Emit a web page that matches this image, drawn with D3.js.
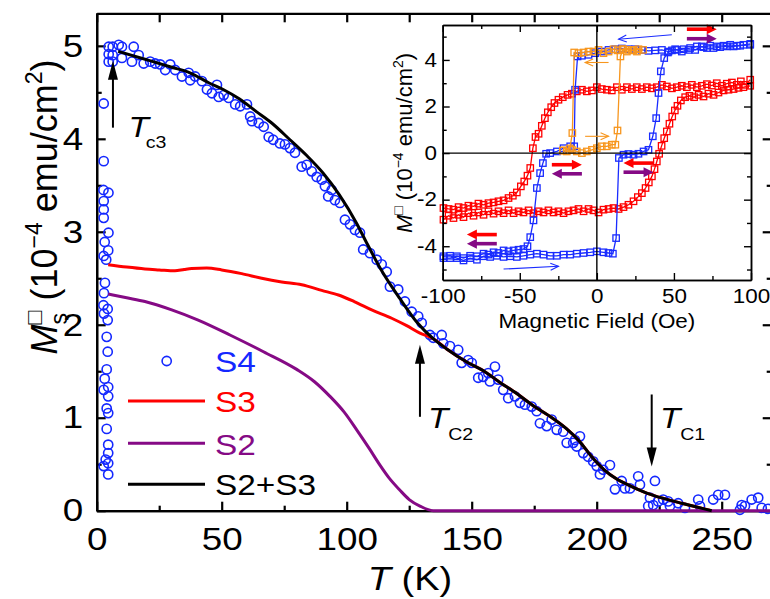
<!DOCTYPE html>
<html>
<head>
<meta charset="utf-8">
<script src="https://cdn.jsdelivr.net/npm/d3@7"></script>
<style>
  html, body { margin: 0; padding: 0; background: #fff; }
  svg { display: block; }
</style>
</head>
<body>
<svg id="chart" width="770" height="599"></svg>
<script>
// ---------------- main panel: remanent moment vs temperature ----------------
// S4 measured points: [T (K), Ms (1e-4 emu/cm^2)]
const s4Points = [
  [2.8,4.38],[2.8,3.76],[2.7,3.45],[4.7,3.42],[2.8,3.33],[2.8,3.24],[2.8,3.15],[4.7,2.99],[3.2,2.89],[4.6,2.80],[2.8,2.74],[3.8,2.70],
  [3.3,2.45],[2.9,2.34],[2.7,2.21],[4.4,2.17],[2.9,2.12],[4.4,2.05],[4.0,1.87],[4.4,1.71],[4.0,1.52],[3.2,1.42],[4.6,1.33],[2.8,1.30],
  [4.6,1.23],[4.0,1.10],[4.6,1.05],[4.0,0.88],[4.6,0.71],[4.6,0.62],[3.6,0.55],[4.6,0.51],[2.8,0.48],[4.6,0.39],
  [4.8,4.99],[6.4,4.99],[8.8,5.01],[10.1,4.99],[4.8,4.91],[6.4,4.90],[4.8,4.83],[6.4,4.83],[10.1,4.87],[14.8,4.99],[14.1,4.83],
  [16.8,4.90],[18.8,4.81],[21.4,4.83],[23.4,4.81],[25.4,4.80],[27.4,4.74],[29.4,4.80],[31.4,4.74],[34.1,4.67],[36.8,4.71],[37.4,4.63],
  [39.4,4.67],[42.1,4.62],[44.1,4.53],[46.1,4.49],[48.1,4.58],[48.8,4.45],[50.8,4.47],[52.8,4.44],[55.4,4.37],[57.4,4.35],[60.1,4.37],
  [61.4,4.24],[62.1,4.19],[64.8,4.17],[66.8,4.13],[68.8,4.02],[70.6,3.99],[73.3,3.95],[75.3,3.94],[77.3,3.90],[79.3,3.85],[82,3.70],
  [84,3.72],[86,3.65],[88,3.59],[90,3.56],[91.3,3.49],[94,3.45],[92.6,3.38],[95.3,3.34],[97.3,3.31],[99.3,3.13],[101.3,3.08],
  [103.3,3.02],[105.3,2.99],[106.6,2.81],[109.3,2.77],[112,2.70],[114,2.65],[116,2.57],[117.3,2.41],[120.6,2.38],[123.3,2.25],
  [126,2.14],[128.6,2.09],[130,2.02],[133.3,1.89],[134.6,1.86],[138,1.89],[138.6,1.80],[141.3,1.77],[144.6,1.73],[146,1.59],
  [148.6,1.62],[150,1.59],[152.6,1.43],[154.6,1.44],[156.6,1.48],[159.3,1.55],[157.3,1.39],[160.6,1.41],[162.6,1.30],[164.6,1.21],
  [167.3,1.23],[169.3,1.16],[171.3,1.14],[174,1.12],[176,1.07],[177.3,0.94],[180,0.91],[182,0.98],[184,0.87],[186.6,0.85],
  [188,0.73],[190.6,0.73],[193.3,0.80],[192,0.69],[191.3,0.76],[194.6,0.62],[196.6,0.58],[198.6,0.53],[200,0.48],[201.3,0.39],
  [202.6,0.44],[205.3,0.49],[207.3,0.23],[210,0.32],[211.3,0.24],[213.3,0.24],[216.6,0.37],[217.3,0.28],[221.3,0.14],[223.3,0.32],
  [220.6,0.05],[222.6,0.06],[224.6,0.10],[226.6,0.12],[228.6,0.10],[232.6,0.08],[229.3,0.05],[235.3,0.03],[240.6,0.12],[241.3,0.05],
  [246.6,0.12],[248.6,0.17],[251.3,0.17],[258,0.06],[259.3,0.05],[262,0.12],[264.6,0.14],[266,0.03],[257.3,0.01],[268.5,0.02]
];

// S3 component
const s3Curve = [
  [4.6,2.645],[12,2.62],[19.3,2.60],[25,2.59],[31.3,2.58],[35,2.595],[38,2.605],[44,2.61],[50,2.59],[58,2.55],[66,2.50],
  [74,2.46],[82,2.43],[90,2.37],[96.7,2.32],[103,2.25],[110,2.16],[118,2.07],[124,1.99],[129.3,1.91],[134.6,1.85],
  [140,1.74],[148,1.60],[155,1.50],[161.3,1.38],[168,1.26],[174.6,1.13],[181,1.02],[188,0.88],[193,0.75],[198,0.58],
  [203,0.44],[208,0.34],[214,0.26],[220,0.19],[227,0.13],[234,0.08],[240,0.04],[246,0.0]
];

// S2 component
const s2Curve = [
  [4.6,2.33],[12,2.29],[19.3,2.25],[30,2.16],[40.6,2.05],[53.3,1.89],[66.7,1.71],[80,1.52],[87,1.39],[93.3,1.23],[99,1.06],
  [104,0.87],[109,0.67],[113.3,0.49],[117,0.35],[121.3,0.22],[125,0.12],[129.3,0.05],[134.6,0.0],[160,0],[200,0],[240,0],[270,0]
];

// S2+S3
const sumCurve = [
  [8.6,4.94],[20,4.85],[30,4.77],[37.3,4.71],[45,4.60],[50.6,4.53],[57,4.43],[64,4.29],[70,4.17],[77.3,3.99],[84,3.82],
  [90.6,3.63],[97,3.40],[104,3.09],[108,2.88],[114,2.58],[121.3,2.28],[128,2.03],[134.6,1.85],[140,1.74],[148,1.60],
  [155,1.50],[161.3,1.38],[168,1.26],[174.6,1.13],[181,1.02],[188,0.88],[193,0.75],[198,0.58],[203,0.44],[208,0.34],
  [214,0.26],[220,0.19],[227,0.13],[234,0.08],[240,0.04],[246,0.0]
];

const xMajorTicks = [0, 50, 100, 150, 200, 250];
const xMinorTicks = [25, 75, 125, 175, 225];
const yMajorTicks = [0, 1, 2, 3, 4, 5];
const yMinorTicks = [0.5, 1.5, 2.5, 3.5, 4.5];

// transition temperatures marked with arrows: [T, M at tail, M at head]
const tcArrows = [
  { name: "c3", t: 6.5,   from: 4.12, to: 4.84 },
  { name: "C2", t: 129.3, from: 1.01, to: 1.785 },
  { name: "C1", t: 222,   from: 1.25, to: 0.476 }
];
// label anchors for the arrows: [T, M] of the "T" and of the subscript
const tcLabels = [
  { sub: "c3", main: [12.7, 4.02], subPos: [19.6, 3.90] },
  { sub: "C2", main: [132.5, 0.89], subPos: [140.6, 0.76] },
  { sub: "C1", main: [225.3, 0.89], subPos: [233.4, 0.76] }
];

// ---------------- inset: hysteresis loops ----------------
// field (Oe), moment (1e-4 emu/cm^2)
const blueUpper = [
  [99.5,4.65],[93,4.61],[88.7,4.58],[84.3,4.58],[80,4.55],[75.7,4.51],[71.4,4.51],[68.1,4.58],[63.8,4.43],[59.5,4.43],
  [55.1,4.36],[50.8,4.46],[46.5,4.36],[42.2,4.43],[37.8,4.41],[33.5,4.39],[29.2,4.43],[24.9,4.46],[20.5,4.46],[16.2,4.49],
  [11.9,4.46],[7.6,4.43],[3.2,4.36],[-1.1,4.29],[-5.4,4.22],[-9.7,4.18],[-12.5,4.15],[-14.1,2.72],[-14.7,0.29],[-17.3,0.29],
  [-21.6,0.21],[-25.9,0.07],[-30.3,0.0],[-32.9,-0.03],[-35,-0.43],[-36.8,-0.86],[-38.9,-1.50],[-41.1,-2.89],[-43.2,-3.61],
  [-45,-4.0],[-47.6,-4.12],[-50.8,-4.15],[-54,-4.18],[-57.3,-4.22],[-60.5,-4.18],[-63.8,-4.29],[-67,-4.26],[-70.3,-4.36],
  [-73.5,-4.32],[-77.8,-4.43],[-82.2,-4.41],[-86.5,-4.51],[-90.8,-4.43],[-95.2,-4.51],[-99.5,-4.51]
];
const blueLower = [
  [-99.5,-4.43],[-95.2,-4.41],[-90.8,-4.51],[-86.5,-4.61],[-82.2,-4.51],[-77.8,-4.58],[-73.5,-4.43],[-69.2,-4.46],[-64.9,-4.41],
  [-60.5,-4.46],[-56.2,-4.43],[-51.9,-4.46],[-47.6,-4.41],[-43.2,-4.36],[-38.9,-4.32],[-34.6,-4.36],[-30.3,-4.41],[-25.9,-4.41],
  [-21.6,-4.36],[-17.3,-4.36],[-13,-4.32],[-8.6,-4.29],[-4.3,-4.26],[0,-4.22],[4.3,-4.26],[7.6,-4.29],[10.4,-4.32],[12.5,-3.65],
  [14.3,-0.21],[17.3,-0.07],[20.5,-0.04],[23.8,-0.07],[27,-0.03],[30.3,0.07],[33.5,0.14],[36.3,0.72],[38.5,1.50],[40,2.58],
  [41.5,3.51],[43.7,4.08],[46.1,4.32],[48.7,4.41],[51.9,4.43],[56.2,4.46],[60.5,4.51],[64.9,4.58],[69.2,4.55],[73.5,4.61],
  [77.8,4.58],[82.2,4.61],[86.5,4.65],[90.8,4.61],[95.1,4.65],[99.5,4.69]
];
const redUpper = [
  [99.5,3.15],[96.2,2.93],[93.4,3.08],[90.8,2.93],[87.6,3.03],[84.3,2.98],[81.1,2.89],[77.8,3.00],[74.6,2.90],[71.4,2.96],
  [68.1,2.89],[64.9,2.83],[61.6,2.93],[58.4,2.83],[55.1,2.89],[51.9,2.83],[48.7,2.78],[45.4,2.86],[42.2,2.93],[38.9,2.83],
  [35.7,2.78],[32.4,2.83],[29.2,2.75],[25.9,2.83],[22.7,2.75],[19.5,2.83],[16.2,2.72],[13,2.83],[9.7,2.69],[6.5,2.72],
  [3.2,2.75],[0,2.83],[-3.2,2.69],[-6.5,2.65],[-9.7,2.72],[-13,2.65],[-16.2,2.55],[-19,2.50],[-22.1,2.40],[-24.9,2.29],
  [-27.5,2.15],[-29.6,1.97],[-31.8,1.75],[-33.7,1.50],[-35.7,1.17],[-37.8,0.83],[-39.8,0.69],[-41.5,0.21],[-43.2,-0.64],
  [-45,-0.97],[-47.1,-1.22],[-49.3,-1.43],[-51.9,-1.69],[-54.5,-1.83],[-57.3,-1.93],[-60.5,-2.03],[-63.8,-2.07],[-67,-2.12],
  [-70.3,-2.15],[-73.5,-2.22],[-76.8,-2.17],[-80,-2.29],[-83.3,-2.26],[-86.5,-2.36],[-89.7,-2.32],[-93,-2.43],[-96.2,-2.40],[-99.5,-2.36]
];
const redLower = [
  [-99.5,-2.86],[-96.2,-2.69],[-93,-2.79],[-89.7,-2.65],[-86.5,-2.75],[-83.3,-2.58],[-80,-2.69],[-76.8,-2.55],[-73.5,-2.65],
  [-70.3,-2.50],[-67,-2.60],[-63.8,-2.50],[-60.5,-2.58],[-57.3,-2.46],[-54,-2.58],[-50.8,-2.50],[-47.6,-2.55],[-44.3,-2.46],
  [-41.1,-2.58],[-37.8,-2.50],[-34.6,-2.55],[-31.4,-2.46],[-28.1,-2.55],[-24.9,-2.50],[-21.6,-2.58],[-18.4,-2.50],[-15.1,-2.46],
  [-11.9,-2.40],[-8.6,-2.50],[-5.4,-2.40],[-2.2,-2.46],[1.1,-2.55],[4.3,-2.43],[7.6,-2.40],[10.8,-2.36],[14.1,-2.40],[17.3,-2.32],
  [20.5,-2.22],[23.8,-2.07],[26.6,-1.89],[29.2,-1.72],[31.6,-1.50],[33.7,-1.26],[35.7,-1.00],[37.4,-0.69],[38.9,-0.36],
  [40.4,-0.03],[42,0.31],[43.7,0.64],[45.4,0.93],[47.1,1.26],[48.9,1.57],[50.6,1.83],[52.3,2.03],[54.5,2.26],[57.3,2.40],
  [60.1,2.46],[63.1,2.40],[66,2.50],[69.2,2.43],[72.4,2.55],[75.7,2.50],[78.9,2.60],[82.2,2.69],[85.4,2.72],[88.7,2.75],
  [91.9,2.80],[95.1,2.83],[99.5,2.89]
];
const orangeLoop = [
  [-22,0.11],[-19.5,0.07],[-16.2,0.14],[-13,0.07],[-9.7,0.0],[-6.5,0.07],[-3.2,0.14],[0,0.21],[3.2,0.29],[6.5,0.29],
  [9.7,0.36],[12,0.36],[13.4,0.97],[15.3,4.15],[17,4.46],[20.5,4.43],[23.8,4.41],[27,4.46],[30,4.43],[26,4.36],[22.7,4.43],
  [19.5,4.36],[16.5,4.46],[13.5,4.41],[10.8,4.46],[7.6,4.36],[4.3,4.29],[1.1,4.43],[-2.2,4.36],[-5.4,4.36],[-8.6,4.32],
  [-11.9,4.29],[-14.7,4.32],[-15.9,0.86],[-17.5,0.2],[-22,0.11]
];
const insetXMajor = [-100, -50, 0, 50, 100];
const insetXMinor = [-75, -25, 25, 75];
const insetYMajor = [-4, -2, 0, 2, 4];
const insetYMinor = [-5, -3, -1, 1, 3, 5];

// sweep-direction arrows in the inset: [H start, M start, H end, M end]
const thinArrows = [
  { c: "blue",   p: [48.6, 5.08, 14.1, 4.89] },
  { c: "blue",   p: [-60.5, -4.98, -24.9, -4.86] },
  { c: "orange", p: [7.6, 3.89, -7.6, 3.89] },
  { c: "orange", p: [-7.6, 0.72, 7.6, 0.72] }
];
const thickArrows = [
  { c: "red",    p: [-29.2, -0.50, -9.7, -0.50] },
  { c: "purple", p: [-9.7, -0.89, -29.2, -0.89] },
  { c: "red",    p: [36.8, -0.43, 17.3, -0.43] },
  { c: "purple", p: [17.3, -0.82, 36.8, -0.82] },
  { c: "red",    p: [-64.9, -3.50, -84.3, -3.50] },
  { c: "purple", p: [-64.9, -3.89, -84.3, -3.89] },
  { c: "red",    p: [58.4, 5.32, 77.8, 5.32] },
  { c: "purple", p: [58.4, 4.91, 77.8, 4.91] }
];

// ---------------- drawing ----------------
const FONT = '"Liberation Sans", Arial, Helvetica, sans-serif';
const WIDE = 1.15;   // horizontal glyph stretch used throughout the figure
const palette = {
  blue: "#1428ff", red: "#ff0000", purple: "#850a85", black: "#000000", orange: "#f7961e", loopBlue: "#1a2cff"
};

const svg = d3.select("#chart");
svg.append("rect").attr("width", 770).attr("height", 599).attr("fill", "#fff");

const frame = { left: 96.7, right: 771.7, top: 13.3, bottom: 510.7 };
const x = d3.scaleLinear().domain([0, 270]).range([frame.left, frame.right]);
const y = d3.scaleLinear().domain([0, 5.35]).range([frame.bottom, frame.top]);

function styleAxis(g, size) {
  g.attr("font-family", FONT).attr("font-size", size);
  g.selectAll("path.domain").attr("stroke", "#000").attr("stroke-width", 2.2);
  g.selectAll(".tick line").attr("stroke", "#000").attr("stroke-width", 2.2);
  g.selectAll(".tick text").attr("fill", "#000").attr("transform", `scale(${WIDE},1)`);
}
const fmt = d => (d < 0 ? "-" + Math.abs(d) : String(d));

// main axes with inward ticks on all four sides
const main = svg.append("g");
main.append("g").attr("transform", `translate(0,${frame.bottom})`)
  .call(d3.axisBottom(x).tickValues(xMajorTicks).tickSizeInner(-9).tickSizeOuter(0).tickPadding(16.5).tickFormat(fmt))
  .call(g => styleAxis(g, 32));
main.append("g").attr("transform", `translate(0,${frame.bottom})`)
  .call(d3.axisBottom(x).tickValues(xMinorTicks).tickSizeInner(-5).tickSizeOuter(0).tickFormat(""))
  .call(g => styleAxis(g, 32));
main.append("g").attr("transform", `translate(0,${frame.top})`)
  .call(d3.axisTop(x).tickValues(xMajorTicks.concat(xMinorTicks)).tickSizeInner(-9).tickSizeOuter(0).tickFormat(""))
  .call(g => styleAxis(g, 32));
main.append("g").attr("transform", `translate(${frame.left},0)`)
  .call(d3.axisLeft(y).tickValues(yMajorTicks).tickSizeInner(-9).tickSizeOuter(0).tickPadding(11.7).tickFormat(fmt))
  .call(g => styleAxis(g, 32));
main.append("g").attr("transform", `translate(${frame.left},0)`)
  .call(d3.axisLeft(y).tickValues(yMinorTicks).tickSizeInner(-5).tickSizeOuter(0).tickFormat(""))
  .call(g => styleAxis(g, 32));
main.append("g").attr("transform", `translate(${frame.right},0)`)
  .call(d3.axisRight(y).tickValues(yMajorTicks).tickSizeInner(-9).tickSizeOuter(0).tickFormat(""))
  .call(g => styleAxis(g, 32));
main.append("g").attr("transform", `translate(${frame.right},0)`)
  .call(d3.axisRight(y).tickValues(yMinorTicks).tickSizeInner(-5).tickSizeOuter(0).tickFormat(""))
  .call(g => styleAxis(g, 32));

// S4 data
svg.append("g").selectAll("circle").data(s4Points).join("circle")
  .attr("cx", d => x(d[0])).attr("cy", d => y(d[1])).attr("r", 4.6)
  .attr("fill", "none").attr("stroke", palette.blue).attr("stroke-width", 1.6);

// model curves
const curve = d3.line().x(d => x(d[0])).y(d => y(d[1])).curve(d3.curveMonotoneX);
[[s3Curve, palette.red], [s2Curve, palette.purple], [sumCurve, palette.black]].forEach(([data, col]) => {
  svg.append("path").datum(data).attr("d", curve).attr("fill", "none")
    .attr("stroke", col).attr("stroke-width", 3).attr("stroke-linejoin", "round");
});

// arrows
function arrow(g, x1, y1, x2, y2, color, width, headLen, headW, open) {
  const ang = Math.atan2(y2 - y1, x2 - x1);
  const bx = x2 - headLen * Math.cos(ang), by = y2 - headLen * Math.sin(ang);
  const px = -Math.sin(ang) * headW / 2, py = Math.cos(ang) * headW / 2;
  if (open) {
    g.append("line").attr("x1", x1).attr("y1", y1).attr("x2", x2).attr("y2", y2)
      .attr("stroke", color).attr("stroke-width", width);
    g.append("path").attr("d", `M${bx + px},${by + py}L${x2},${y2}L${bx - px},${by - py}`)
      .attr("fill", "none").attr("stroke", color).attr("stroke-width", width);
  } else {
    g.append("line").attr("x1", x1).attr("y1", y1).attr("x2", bx + Math.cos(ang)).attr("y2", by + Math.sin(ang))
      .attr("stroke", color).attr("stroke-width", width);
    g.append("path").attr("d", `M${bx + px},${by + py}L${x2},${y2}L${bx - px},${by - py}Z`)
      .attr("fill", color).attr("stroke", "none");
  }
}
const annot = svg.append("g");
tcArrows.forEach(a => arrow(annot, x(a.t), y(a.from), x(a.t), y(a.to), "#000", 2, 19, 10, false));

function label(parent, px, py, size, opts = {}) {
  return parent.append("text")
    .attr("transform", `translate(${px},${py}) scale(${WIDE},1)` + (opts.rotate ? " rotate(-90)" : ""))
    .attr("font-family", FONT).attr("font-size", size)
    .attr("fill", opts.color || "#000").attr("text-anchor", opts.anchor || "start");
}
tcLabels.forEach(l => {
  label(annot, x(l.main[0]), y(l.main[1]), 29).attr("font-style", "italic").text("T");
  label(annot, x(l.subPos[0]), y(l.subPos[1]), 17).text(l.sub);
});

// axis titles
const xt = label(svg, 410, 590, 33, { anchor: "middle" });
xt.append("tspan").attr("font-style", "italic").text("T");
xt.append("tspan").text(" (K)");

function magTitle(parent, px, py, big, small, withSub) {
  const t = parent.append("text").attr("transform", `translate(${px},${py}) rotate(-90)`)
    .attr("font-family", FONT).attr("font-size", big).attr("fill", "#000");
  t.append("tspan").attr("font-style", "italic").text("M");
  const sq = t.append("tspan").attr("font-size", small).attr("dy", -big * 0.42).text("\u25A1");
  let shift = 0;
  if (withSub) {
    const w = sq.node().getComputedTextLength();
    const s = t.append("tspan").attr("font-size", small).attr("dx", -w).attr("dy", big * 0.7).text("s");
    shift = w - s.node().getComputedTextLength();
    t.append("tspan").attr("dx", shift).attr("dy", -big * 0.28).text(" (10");
  } else {
    t.append("tspan").attr("dy", big * 0.42).text(" (10");
  }
  t.append("tspan").attr("font-size", small).attr("dy", -big * 0.42).text("\u22124");
  t.append("tspan").attr("dy", big * 0.42).text(" emu/cm");
  t.append("tspan").attr("font-size", small).attr("dy", -big * 0.42).text("2");
  t.append("tspan").attr("dy", big * 0.42).text(")");
  const bb = t.node().getBBox();
  t.attr("x", -bb.x - bb.width / 2);
  return t;
}
magTitle(svg, 57, 207, 36, 23, true);

// legend
const leg = svg.append("g");
leg.append("circle").attr("cx", 166.7).attr("cy", 361).attr("r", 4.6)
  .attr("fill", "none").attr("stroke", palette.blue).attr("stroke-width", 1.6);
label(leg, 215, 372, 29, { color: palette.blue }).text("S4");
[["S3", palette.red, 401, 412], ["S2", palette.purple, 443.3, 455], ["S2+S3", palette.black, 484.3, 495]]
  .forEach(([name, col, ly, ty]) => {
    leg.append("line").attr("x1", 128).attr("x2", 205).attr("y1", ly).attr("y2", ly)
      .attr("stroke", col).attr("stroke-width", 3);
    label(leg, 215, ty, 29, { color: col }).text(name);
  });

// ---------------- inset ----------------
const box = { left: 442.7, right: 751, top: 25, bottom: 280 };
const ix = d3.scaleLinear().domain([-100, 100]).range([box.left, box.right]);
const iy = d3.scaleLinear().domain([-5.45, 5.5]).range([box.bottom, box.top]);
const inset = svg.append("g");
inset.append("rect").attr("x", box.left).attr("y", box.top)
  .attr("width", box.right - box.left).attr("height", box.bottom - box.top).attr("fill", "#fff");

const loopLine = d3.line().x(d => ix(d[0])).y(d => iy(d[1]));
function loop(data, col) {
  inset.append("path").datum(data).attr("d", loopLine).attr("fill", "none")
    .attr("stroke", col).attr("stroke-width", 1.3);
  inset.append("g").selectAll("rect").data(data).join("rect")
    .attr("x", d => ix(d[0]) - 3.2).attr("y", d => iy(d[1]) - 3.2).attr("width", 6.4).attr("height", 6.4)
    .attr("fill", "none").attr("stroke", col).attr("stroke-width", 1.3);
}
loop(redUpper, palette.red);
loop(redLower, palette.red);
loop(blueUpper, palette.loopBlue);
loop(blueLower, palette.loopBlue);
loop(orangeLoop, palette.orange);

// zero lines
inset.append("line").attr("x1", box.left).attr("x2", box.right).attr("y1", iy(0)).attr("y2", iy(0))
  .attr("stroke", "#000").attr("stroke-width", 1.4);
inset.append("line").attr("x1", ix(0)).attr("x2", ix(0)).attr("y1", box.top).attr("y2", box.bottom)
  .attr("stroke", "#000").attr("stroke-width", 1.4);

// inset direction arrows
const arrowColor = { blue: palette.loopBlue, orange: palette.orange, red: palette.red, purple: palette.purple };
thinArrows.forEach(a => arrow(inset, ix(a.p[0]), iy(a.p[1]), ix(a.p[2]), iy(a.p[3]), arrowColor[a.c], 1.1, 8, 7, true));
thickArrows.forEach(a => arrow(inset, ix(a.p[0]), iy(a.p[1]), ix(a.p[2]), iy(a.p[3]), arrowColor[a.c], 3.6, 10, 10, false));

function styleInset(g) {
  g.attr("font-family", FONT).attr("font-size", 19.5);
  g.selectAll("path.domain").attr("stroke", "#000").attr("stroke-width", 1.5);
  g.selectAll(".tick line").attr("stroke", "#000").attr("stroke-width", 1.4);
  g.selectAll(".tick text").attr("fill", "#000").attr("transform", `scale(${WIDE},1)`);
}
inset.append("g").attr("transform", `translate(0,${box.bottom})`)
  .call(d3.axisBottom(ix).tickValues(insetXMajor).tickSizeInner(-7).tickSizeOuter(0).tickPadding(9).tickFormat(fmt)).call(styleInset);
inset.append("g").attr("transform", `translate(0,${box.bottom})`)
  .call(d3.axisBottom(ix).tickValues(insetXMinor).tickSizeInner(-4).tickSizeOuter(0).tickFormat("")).call(styleInset);
inset.append("g").attr("transform", `translate(0,${box.top})`)
  .call(d3.axisTop(ix).tickValues(insetXMajor).tickSizeInner(-7).tickSizeOuter(0).tickFormat("")).call(styleInset);
inset.append("g").attr("transform", `translate(0,${box.top})`)
  .call(d3.axisTop(ix).tickValues(insetXMinor).tickSizeInner(-4).tickSizeOuter(0).tickFormat("")).call(styleInset);
inset.append("g").attr("transform", `translate(${box.left},0)`)
  .call(d3.axisLeft(iy).tickValues(insetYMajor).tickSizeInner(-7).tickSizeOuter(0).tickPadding(5).tickFormat(fmt)).call(styleInset);
inset.append("g").attr("transform", `translate(${box.left},0)`)
  .call(d3.axisLeft(iy).tickValues(insetYMinor).tickSizeInner(-4).tickSizeOuter(0).tickFormat("")).call(styleInset);
inset.append("g").attr("transform", `translate(${box.right},0)`)
  .call(d3.axisRight(iy).tickValues(insetYMajor).tickSizeInner(-7).tickSizeOuter(0).tickFormat("")).call(styleInset);
inset.append("g").attr("transform", `translate(${box.right},0)`)
  .call(d3.axisRight(iy).tickValues(insetYMinor).tickSizeInner(-4).tickSizeOuter(0).tickFormat("")).call(styleInset);

label(inset, (box.left + box.right) / 2, 328, 19.5, { anchor: "middle" }).text("Magnetic Field (Oe)");
magTitle(inset, 412, 143, 22, 14, false);
</script>
</body>
</html>
